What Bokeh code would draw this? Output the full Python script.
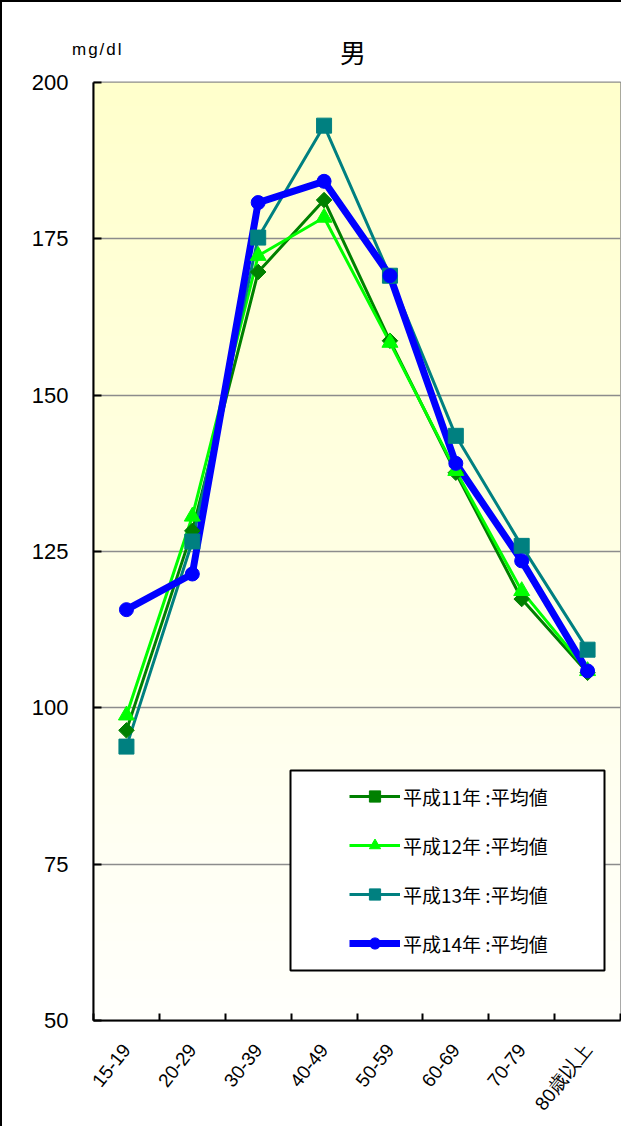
import math
import numpy as np
from bokeh.plotting import figure
from bokeh.layouts import column
from bokeh.models import (FixedTicker, Legend, LegendItem, BoxAnnotation, Div,
                          ColumnDataSource, Range1d)
from bokeh.embed import file_html
from bokeh.resources import INLINE

# ---- data -------------------------------------------------------------
categories = ["15-19", "20-29", "30-39", "40-49", "50-59", "60-69", "70-79", "80歳以上"]
h11 = [96.4, 128.3, 169.7, 181.2, 158.7, 137.6, 117.4, 105.6]
h12 = [98.8, 130.6, 172.3, 178.4, 158.4, 137.9, 118.7, 105.9]
h13 = [93.8, 126.6, 175.2, 193.1, 169.1, 143.5, 125.9, 109.3]
h14 = [115.7, 121.4, 180.8, 184.2, 169.1, 139.1, 123.5, 105.9]
series_names = ["平成11年 :平均値", "平成12年 :平均値", "平成13年 :平均値", "平成14年 :平均値"]
y_ticks = [50, 75, 100, 125, 150, 175, 200]
title_text = "男"
unit_text = "mg/dl"

# ---- layout sizes ---------------------------------------------------------
ncat = len(categories)
xc = [i + 0.5 for i in range(ncat)]
FW, FH = 527, 938
LEFT, RIGHT, BOTTOM, TOP = 91, 1, 106, 14
TOTAL_W = FW + LEFT + RIGHT
HEAD_H = 66

# ---- header strip: unit and title ----------------------------------------
head_html = (
    f'<div style="position:relative;width:{TOTAL_W}px;height:{HEAD_H}px;">'
    f'<span style="position:absolute;left:70px;top:39px;font-family:\'Liberation Sans\';'
    f'font-size:17px;line-height:18px;letter-spacing:2px;color:black;">{unit_text}</span>'
    f'<span style="position:absolute;left:338px;top:37px;font-family:\'Noto Sans CJK JP\';'
    f'font-size:26px;line-height:26px;color:black;">{title_text}</span>'
    f'</div>'
)
head = Div(text=head_html, width=TOTAL_W, height=HEAD_H, margin=0)

# ---- main chart ----------------------------------------------------------
p = figure(frame_width=FW, frame_height=FH,
           x_range=Range1d(0, ncat), y_range=Range1d(y_ticks[0], y_ticks[-1]),
           output_backend="svg", toolbar_location=None,
           min_border_left=LEFT, min_border_right=RIGHT, min_border_top=TOP,
           min_border_bottom=BOTTOM,
           background_fill_color="white", border_fill_color="white")

# gradient background of the plot area (yellow at top -> near white at bottom)
N = 200
img = np.empty((N, 1), dtype=np.uint32)
view = img.view(dtype=np.uint8).reshape((N, 1, 4))
view[..., 0] = 255
view[..., 1] = 255
view[..., 2] = np.linspace(252, 204, N).astype(np.uint8)[:, None]
view[..., 3] = 255
p.image_rgba(image=[img], x=0, y=y_ticks[0], dw=ncat, dh=y_ticks[-1] - y_ticks[0], level="image")

p.outline_line_color = "#8c8c8c"
p.outline_line_width = 2

# axes
p.xaxis.ticker = FixedTicker(ticks=xc, minor_ticks=list(range(ncat + 1)))
p.xaxis.major_label_overrides = {x: c for x, c in zip(xc, categories)}
p.xaxis.major_label_orientation = 0.9
p.xaxis.major_tick_line_color = None
p.xaxis.minor_tick_in = 7
p.xaxis.minor_tick_out = 0
p.xaxis.minor_tick_line_color = "black"
p.xaxis.minor_tick_line_width = 2
p.xaxis.axis_line_color = "black"
p.xaxis.axis_line_width = 2
p.xaxis.major_label_text_font = "Liberation Sans"
p.xaxis.major_label_text_font_size = "19px"
p.xaxis.major_label_text_color = "black"
p.xaxis.major_label_standoff = 20

p.yaxis.ticker = FixedTicker(ticks=y_ticks)
p.yaxis.major_tick_in = 8
p.yaxis.major_tick_out = 0
p.yaxis.major_tick_line_color = "black"
p.yaxis.major_tick_line_width = 2
p.yaxis.minor_tick_line_color = None
p.yaxis.axis_line_color = "black"
p.yaxis.axis_line_width = 2
p.yaxis.major_label_text_font = "Liberation Sans"
p.yaxis.major_label_text_font_size = "22px"
p.yaxis.major_label_text_color = "black"
p.yaxis.major_label_standoff = 25

p.xgrid.grid_line_color = None
p.ygrid.grid_line_color = "#8c8c8c"
p.ygrid.grid_line_width = 1.5

# ---- series -------------------------------------------------------------
styles = [
    dict(color="#008000", lw=3, marker="square", size=11, angle=math.pi / 4),
    dict(color="#00FF00", lw=3, marker="triangle", size=16, angle=0.0),
    dict(color="#008080", lw=3, marker="square", size=15, angle=0.0),
    dict(color="#0000FF", lw=7, marker="circle", size=14, angle=0.0),
]
all_vals = [h11, h12, h13, h14]
sources = [ColumnDataSource(dict(x=xc, y=v)) for v in all_vals]

line_rs = []
for src, st in zip(sources, styles):
    line_rs.append(p.line("x", "y", source=src, line_color=st["color"], line_width=st["lw"]))
mark_rs = []
for src, st in zip(sources, styles):
    mark_rs.append(p.scatter("x", "y", source=src, marker=st["marker"], size=st["size"],
                             angle=st["angle"], fill_color=st["color"], line_color=st["color"]))

# legend frame and legend
p.add_layout(BoxAnnotation(left=197, right=511, bottom=50, top=250,
                           left_units="screen", right_units="screen",
                           bottom_units="screen", top_units="screen",
                           fill_color="white", fill_alpha=1.0,
                           line_color="black", line_width=2, line_alpha=1.0))

items = [LegendItem(label=n, renderers=[lr, mr])
         for n, lr, mr in zip(series_names, line_rs, mark_rs)]
legend = Legend(items=items, location=(256, 63), padding=0, margin=0,
                border_line_color=None, background_fill_alpha=0,
                glyph_width=51, glyph_height=28, label_height=28, spacing=21,
                label_standoff=3, label_text_font="Noto Sans CJK JP",
                label_text_font_size="19px", label_text_color="black")
p.add_layout(legend)

layout = column(head, p, spacing=0)
layout.styles = {"border-left": "2px solid black", "border-top": "2px solid black"}

open("out.html", "w").write(file_html(layout, INLINE))
